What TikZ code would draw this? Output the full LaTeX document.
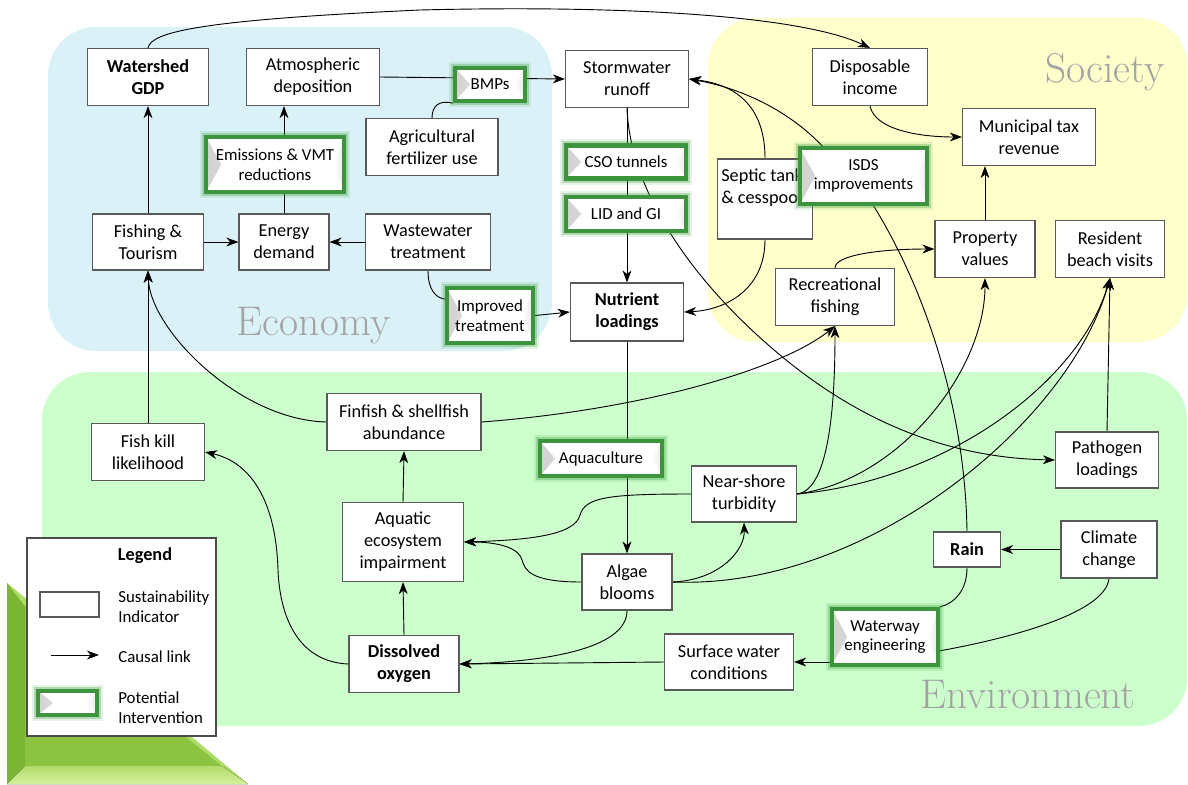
\documentclass[tikz,border=0pt]{standalone}
\usepackage{fontspec}
\newfontfamily\calib{Carlito}
\usetikzlibrary{arrows.meta}
\pgfdeclarelayer{regions}
\pgfdeclarelayer{links}
\pgfsetlayers{regions,links,main}

\definecolor{econ}{RGB}{218,242,247}
\definecolor{soc}{RGB}{255,255,204}
\definecolor{env}{RGB}{204,255,204}
\definecolor{ivgreen}{RGB}{62,148,62}
\definecolor{ivglow}{RGB}{60,160,60}
\definecolor{triA}{RGB}{140,196,66}
\definecolor{triDark}{RGB}{122,182,52}
\definecolor{triLight}{RGB}{176,220,108}
\definecolor{triPale}{RGB}{214,240,158}

\tikzset{
  px/.style 2 args={minimum width=#1*0.025cm, minimum height=#2*0.025cm},
  ind/.style={draw=black!65, line width=0.8pt, fill=white, align=center,
    inner sep=1pt, font=\calib\fontsize{13}{15.6}\selectfont},
  interv/.style={fill=white, draw=ivgreen, line width=3pt, align=center,
    inner sep=1pt, font=\calib\fontsize{12}{14}\selectfont,
    preaction={draw=ivglow, line width=9pt, opacity=0.13},
    preaction={draw=ivglow, line width=6pt, opacity=0.3},
    path picture={
      \fill[left color=black!18, right color=white]
        (path picture bounding box.north west)
        -- ([xshift=0.38cm]path picture bounding box.west)
        -- (path picture bounding box.south west) -- cycle;
      \fill[right color=black!9, left color=white]
        (path picture bounding box.north east)
        -- ([xshift=-0.25cm]path picture bounding box.east)
        -- (path picture bounding box.south east) -- cycle;
    }},
  lnk/.style={line width=0.65pt, -{Stealth[length=0.3cm,width=0.22cm,inset=0.09cm]}},
  plain/.style={line width=0.65pt},
  region/.style={rounded corners=1.2cm},
  rlabel/.style={text=black!36, font=\fontsize{29.5}{32}\selectfont, inner sep=0pt},
  legtext/.style={anchor=west, align=left, inner sep=0pt,
    font=\calib\fontsize{12}{14.2}\selectfont},
}

\begin{document}
\begin{tikzpicture}[x=0.025cm, y=-0.025cm]
\useasboundingbox (0,0) rectangle (1188,784);

% ---------- theme regions ----------
\begin{pgfonlayer}{regions}
  \fill[econ, region] (48,27) rectangle (552,351);
  \fill[soc, region] (708,18) rectangle (1187,342);
  \fill[env, region] (42,372) rectangle (1187,726);
  \node[rlabel, anchor=base] (lbecon) at (313.5,335) {Economy};
  \node[rlabel, anchor=base] (lbsoc) at (1105,82) {Society};
  \node[rlabel, anchor=base] (lbenv) at (1028,708) {Environment};
  % bevelled corner triangle
  \fill[triA] (7,583) -- (248,784) -- (7,784) -- cycle;
  \fill[triDark] (7,583) -- (25,606) -- (25,766) -- (7,784) -- cycle;
  \fill[triLight] (7,583) -- (248,784) -- (222,766) -- (25,606) -- cycle;
  \fill[top color=triLight, bottom color=triPale] (7,784) -- (25,766) -- (222,766) -- (248,784) -- cycle;
\end{pgfonlayer}

% ---------- economy ----------
\node[ind, px={121}{57}, font=\calib\bfseries\fontsize{13}{15.6}\selectfont] (gdp) at (148,77) {Watershed\\GDP};
\node[ind, px={133}{57}] (atm) at (313,77) {Atmospheric\\deposition};
\node[ind, px={132}{57}] (agr) at (432,147) {Agricultural\\fertilizer use};
\node[ind, px={111}{56}] (ftour) at (148,242) {Fishing \&\\Tourism};
\node[ind, px={90}{56}] (energy) at (284,242) {Energy\\demand};
\node[ind, px={125}{56}] (waste) at (428,242) {Wastewater\\treatment};
\node[interv, px={138}{55}] (emis) at (275,164.5) {Emissions \& VMT\\reductions};
\node[interv, px={70}{33}] (bmp) at (490,84.5) {BMPs};
\node[interv, px={86}{55}] (imptr) at (490,315.5) {Improved\\treatment};

% ---------- central column ----------
\node[ind, px={123}{57}] (storm) at (627,79) {Stormwater\\runoff};
\node[interv, px={120}{33}] (cso) at (626,162) {CSO tunnels};
\node[interv, px={120}{34}] (lid) at (626,214) {LID and GI};
\node[ind, px={113}{58}, font=\calib\bfseries\fontsize{13}{15.6}\selectfont] (nutr) at (627,312) {Nutrient\\loadings};

% ---------- society ----------
\node[ind, px={115}{57}] (dinc) at (870,77) {Disposable\\income};
\node[ind, px={133}{57}] (mtax) at (1029,137) {Municipal tax\\revenue};
\node[ind, px={95}{80}] (septic) at (765,199) {};
\node[anchor=north west, align=left, inner sep=0pt, font=\calib\fontsize{13}{15.6}\selectfont] (septictxt) at (721,169) {Septic tank\\\& cesspool};
\node[interv, px={127}{56}] (isds) at (863.5,176) {ISDS\\improvements};
\node[ind, px={100}{57}] (prop) at (985,249) {Property\\values};
\node[ind, px={109}{57}] (beach) at (1110,249) {Resident\\beach visits};
\node[ind, px={119}{57}] (recf) at (835,297) {Recreational\\fishing};

% ---------- environment ----------
\node[ind, px={113}{57}] (fkill) at (148,452) {Fish kill\\likelihood};
\node[ind, px={154}{57}] (finf) at (404,422) {Finfish \& shellfish\\abundance};
\node[ind, px={121}{79}] (aqua) at (403,542) {Aquatic\\ecosystem\\impairment};
\node[ind, px={110}{57}, font=\calib\bfseries\fontsize{13}{15.6}\selectfont] (dox) at (404,664) {Dissolved\\oxygen};
\node[interv, px={122}{35}] (aqcul) at (601,458.5) {Aquaculture};
\node[ind, px={105}{56}] (turb) at (744,494) {Near-shore\\turbidity};
\node[ind, px={90}{56}] (algae) at (627,582) {Algae\\blooms};
\node[ind, px={129}{56}] (surf) at (729,662) {Surface water\\conditions};
\node[ind, px={103}{56}] (pathg) at (1107,460) {Pathogen\\loadings};
\node[ind, px={67}{35}, font=\calib\bfseries\fontsize{13}{15.6}\selectfont] (rain) at (967,549.5) {Rain};
\node[ind, px={96}{57}] (clim) at (1109,549.5) {Climate\\change};
\node[interv, px={106}{56}] (wway) at (885,637) {Waterway\\engineering};

% ---------- legend ----------
\node[draw=black!70, line width=0.8pt, fill=white, px={189}{198}] (legend) at (121.5,637) {};
\node[font=\calib\bfseries\fontsize{13}{15.6}\selectfont, inner sep=0pt] (legtitle) at (145,556) {Legend};
\node[ind, px={59}{25}] (legind) at (69.5,604.5) {};
\node[legtext] (legtxta) at (118,607) {Sustainability\\Indicator};
\coordinate (lgA) at (51,655);
\coordinate (lgB) at (99,655);
\draw[lnk] (lgA) -- (lgB);
\node[legtext] (legtxtb) at (118,657) {Causal link};
\node[interv, px={59}{24}] (legint) at (67.5,703) {};
\node[legtext] (legtxtc) at (118,708) {Potential\\Intervention};

% ---------- causal links ----------
\begin{pgfonlayer}{links}
  \draw[lnk] (gdp.north) .. controls (151,32) and (200,20) .. (420,10)
             .. controls (620,5) and (800,15) .. (dinc.north);
  \draw[lnk] (ftour.north) -- (gdp.south);
  \draw[lnk] (ftour.east) -- (energy.west);
  \draw[lnk] (waste.west) -- (energy.east);
  \draw[lnk] (energy.north) -- (energy.north |- atm.south);
  \draw[lnk] (atm.east) -- (storm.west);
  \draw[plain] (agr.north) .. controls (432,105) and (440,100) .. (bmp.south west);
  \draw[lnk] (storm.south) -- (nutr.north);
  \draw[lnk] (storm.south) .. controls (630,190) and (690,280) .. (780,355)
             .. controls (870,430) and (960,458) .. (pathg.west);
  \draw[plain] (waste.south) .. controls (428,290) and (436,298) .. (imptr.160);
  \draw[lnk] (imptr.east) -- (nutr.west);
  \draw[lnk] (septic.north) .. controls (765,110) and (740,85) .. (storm.east);
  \draw[lnk] (septic.south) .. controls (765,290) and (725,310) .. (nutr.east);
  \draw[lnk] (rain.north) .. controls (965,400) and (920,280) .. (873,205)
             -- (826,150) .. controls (790,110) and (740,88) .. (storm.east);
  \draw[plain] (rain.south) .. controls (967,590) and (955,603) .. (wway.north east);
  \draw[plain] (clim.south) .. controls (1105,615) and (1000,640) .. (wway.-14);
  \draw[lnk] (clim.west) -- (rain.east);
  \draw[lnk] (wway.west |- surf.east) -- (surf.east);
  \draw[lnk] (dinc.south) .. controls (875,130) and (920,137) .. (mtax.west);
  \draw[lnk] (prop.north) -- (prop.north |- mtax.south);
  \draw[lnk] (recf.north) .. controls (835,255) and (880,249) .. (prop.west);
  \draw[lnk] (turb.east) .. controls (830,490) and (835,400) .. (recf.south);
  \draw[lnk] (turb.east) .. controls (900,480) and (985,370) .. (prop.south);
  \draw[lnk] (turb.east) .. controls (950,480) and (1080,380) .. (beach.south);
  \draw[lnk] (algae.east) .. controls (870,590) and (1070,420) .. (beach.south);
  \draw[lnk] (algae.east) .. controls (720,580) and (745,550) .. (turb.south);
  \draw[lnk] (turb.west) .. controls (610,494) and (585,497) .. (580,515)
             .. controls (575,535) and (530,540) .. (aqua.east);
  \draw[lnk] (algae.west) .. controls (530,582) and (525,570) .. (522,560)
             .. controls (518,545) and (490,542) .. (aqua.east);
  \draw[lnk] (algae.south) .. controls (627,650) and (540,662) .. (dox.east);
  \draw[lnk] (surf.west) -- (dox.east);
  \draw[lnk] (nutr.south) -- (algae.north);
  \draw[lnk] (aqua.north) -- (finf.south);
  \draw[lnk] (dox.north) -- (aqua.south);
  \draw[lnk] (dox.west) .. controls (300,662) and (280,620) .. (278,570)
             .. controls (276,500) and (250,462) .. (fkill.east);
  \draw[lnk] (fkill.north) -- (ftour.south);
  \draw[lnk] (finf.west) .. controls (240,420) and (150,330) .. (ftour.south);
  \draw[lnk] (finf.east) .. controls (640,410) and (780,370) .. (recf.south);
  \draw[lnk] (pathg.north) -- (beach.south);
\end{pgfonlayer}
\end{tikzpicture}
\end{document}
